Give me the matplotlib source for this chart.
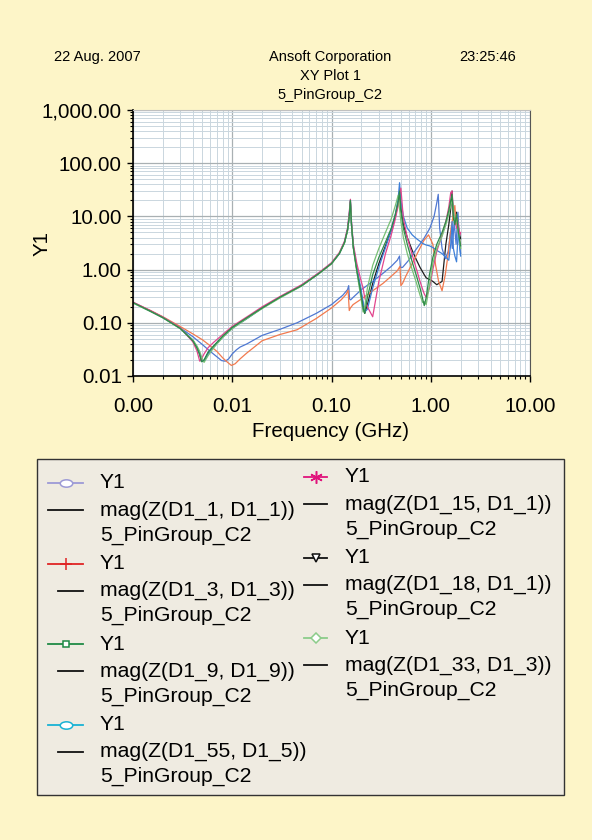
import matplotlib
matplotlib.use("Agg")
import matplotlib.pyplot as plt
import matplotlib.path as mpath
import matplotlib.ticker as mticker
from matplotlib.lines import Line2D
from matplotlib.patches import Rectangle

plt.rcParams['font.family'] = ['Liberation Sans', 'DejaVu Sans']

# frequency grid (GHz) used for the self-impedance curves
f_self = [0.001, 0.0015, 0.002, 0.003, 0.004, 0.0044, 0.0047, 0.0049, 0.0052, 0.0057,
          0.0065, 0.008, 0.01, 0.015, 0.02, 0.03, 0.05, 0.075, 0.1, 0.12,
          0.135, 0.145, 0.151, 0.155, 0.159, 0.166, 0.18, 0.195, 0.208, 0.216,
          0.23, 0.26, 0.3, 0.35, 0.4, 0.44, 0.47, 0.485, 0.5, 0.53,
          0.58, 0.65, 0.72, 0.78, 0.83, 0.86, 0.9, 0.97, 1.05, 1.15,
          1.3, 1.42, 1.52, 1.59, 1.64, 1.69, 1.75, 1.82, 1.9, 1.96, 2.0]

z_9_9 = [0.24, 0.165, 0.125, 0.078, 0.046, 0.034, 0.025, 0.0185, 0.02, 0.028,
         0.037, 0.056, 0.082, 0.135, 0.19, 0.3, 0.5, 0.85, 1.3, 2.0,
         3.2, 5.5, 10, 20, 7, 2.6, 0.95, 0.42, 0.19, 0.15,
         0.3, 0.8, 1.7, 3.3, 6, 11, 19, 30, 13, 6,
         3, 1.4, 0.75, 0.45, 0.28, 0.21, 0.3, 0.8, 1.7, 3,
         5, 8, 13, 20, 26, 10, 7, 11, 5, 3.5, 2.8]
z_55_5 = [0.24, 0.166, 0.127, 0.08, 0.047, 0.035, 0.027, 0.02, 0.0188, 0.026,
          0.035, 0.054, 0.079, 0.13, 0.19, 0.3, 0.5, 0.86, 1.32, 2.0,
          3.3, 5.7, 11, 20, 7.5, 2.8, 1.1, 0.5, 0.25, 0.16,
          0.18, 0.45, 1.1, 2.6, 5.5, 11, 22, 43, 20, 10,
          6, 4.5, 3.8, 3.4, 3.1, 3.0, 2.9, 2.8, 2.6, 2.3,
          2.0, 1.7, 1.5, 3, 8, 2.5, 1.8, 1.4, 6, 2.5, 1.8]
z_15_1 = [0.245, 0.17, 0.128, 0.08, 0.044, 0.03, 0.019, 0.021, 0.026, 0.034,
          0.043, 0.06, 0.086, 0.14, 0.2, 0.31, 0.52, 0.88, 1.35, 2.1,
          3.4, 6, 12, 21, 8, 3, 1.3, 0.7, 0.45, 0.3,
          0.2, 0.13, 0.6, 2.0, 4.5, 9, 16, 26, 34, 9,
          4, 1.9, 1.0, 0.6, 0.42, 0.35, 0.3, 0.45, 1.0, 2.2,
          4.5, 8, 15, 28, 30, 12, 9, 6, 7, 4.5, 5]
z_18_1 = [0.24, 0.165, 0.126, 0.079, 0.047, 0.035, 0.026, 0.019, 0.0195, 0.027,
          0.036, 0.055, 0.08, 0.132, 0.19, 0.3, 0.5, 0.86, 1.3, 2.0,
          3.2, 5.5, 10, 19, 7, 2.6, 1.0, 0.45, 0.22, 0.15,
          0.22, 0.55, 1.3, 2.8, 5.5, 10, 18, 28, 14, 7,
          4, 2.3, 1.5, 1.1, 0.9, 0.8, 0.7, 0.65, 0.6, 0.52,
          0.6, 3, 7, 14, 30, 9, 8, 12, 6, 4.5, 3.8]
z_33_3 = [0.235, 0.163, 0.124, 0.077, 0.048, 0.037, 0.029, 0.023, 0.018, 0.024,
          0.034, 0.053, 0.078, 0.13, 0.185, 0.29, 0.49, 0.84, 1.28, 2.0,
          3.1, 5.3, 9.5, 18, 7, 2.5, 0.9, 0.35, 0.16, 0.2,
          0.45, 1.2, 2.5, 5, 9, 16, 25, 14, 8, 4,
          2, 1, 0.55, 0.33, 0.24, 0.25, 0.22, 0.5, 1.3, 2.5,
          4.2, 7, 11, 16, 20, 14, 8, 9, 5, 3.5, 2.5]

# the two lower curves
f_1_1 = [0.001, 0.0015, 0.002, 0.003, 0.004, 0.005, 0.006, 0.007, 0.0078, 0.0085,
         0.0092, 0.01, 0.011, 0.012, 0.014, 0.02, 0.03, 0.045, 0.07, 0.1,
         0.13, 0.145, 0.149, 0.152, 0.156, 0.165, 0.2, 0.26, 0.33, 0.4,
         0.46, 0.485, 0.495, 0.52, 0.6, 0.7, 0.85, 0.98, 1.08, 1.15,
         1.19, 1.23, 1.3, 1.4, 1.5, 1.58, 1.65, 1.72, 1.8, 1.88, 1.95, 2.0]
z_1_1 = [0.24, 0.165, 0.125, 0.08, 0.055, 0.039, 0.029, 0.023, 0.0195, 0.019,
         0.021, 0.026, 0.031, 0.035, 0.04, 0.058, 0.075, 0.1, 0.15, 0.22,
         0.33, 0.42, 0.5, 0.28, 0.27, 0.3, 0.42, 0.6, 0.85, 1.15,
         1.5, 1.8, 1.1, 1.1, 1.5, 2.3, 3.8, 6, 10, 18,
         26, 6, 2.5, 1.6, 2.2, 5, 2.5, 8, 3, 12, 3, 2]
f_3_3 = [0.001, 0.0015, 0.002, 0.003, 0.004, 0.005, 0.006, 0.007, 0.008, 0.009,
         0.0098, 0.0107, 0.012, 0.014, 0.017, 0.02, 0.03, 0.045, 0.07, 0.1,
         0.125, 0.14, 0.147, 0.151, 0.155, 0.165, 0.2, 0.26, 0.33, 0.4,
         0.46, 0.49, 0.5, 0.52, 0.56, 0.65, 0.75, 0.85, 0.95, 1.05,
         1.12, 1.2, 1.3, 1.4, 1.5, 1.6, 1.68, 1.75, 1.8, 1.86, 1.92, 2.0]
z_3_3 = [0.24, 0.17, 0.13, 0.085, 0.062, 0.048, 0.037, 0.029, 0.022, 0.018,
         0.0158, 0.017, 0.021, 0.027, 0.036, 0.046, 0.06, 0.074, 0.12, 0.19,
         0.27, 0.34, 0.41, 0.17, 0.19, 0.22, 0.28, 0.4, 0.55, 0.75,
         0.95, 1.15, 0.5, 0.55, 0.75, 1.3, 2.2, 3.5, 4.5, 3,
         1.2, 0.6, 0.4, 0.8, 2, 6, 10, 16, 7, 9, 4, 3]

x_ticks = [0.001, 0.01, 0.1, 1, 10]
x_tick_labels = ['0.00', '0.01', '0.10', '1.00', '10.00']
y_ticks = [0.01, 0.1, 1, 10, 100, 1000]
y_tick_labels = ['0.01', '0.10', '1.00', '10.00', '100.00', '1,000.00']

legend_names = ['mag(Z(D1_1, D1_1))', 'mag(Z(D1_3, D1_3))', 'mag(Z(D1_9, D1_9))',
                'mag(Z(D1_55, D1_5))', 'mag(Z(D1_15, D1_1))', 'mag(Z(D1_18, D1_1))',
                'mag(Z(D1_33, D1_3))']

W, H = 592, 840
bg = '#fdf5c8'
fig = plt.figure(figsize=(W / 100, H / 100), dpi=100, facecolor=bg)


def fx(px):
    return px / W


def fy(py):
    return 1 - py / H


ax = fig.add_axes([fx(133), fy(376), fx(530) - fx(133), fy(110) - fy(376)])
ax.set_facecolor('white')

# curves: x data, y data, line colour (drawn back to front)
curves = [
    (f_self, z_18_1, '#1e1e1e'),
    (f_1_1, z_1_1, '#4f78d2'),
    (f_3_3, z_3_3, '#f27a4e'),
    (f_self, z_55_5, '#3d7fd8'),
    (f_self, z_15_1, '#e2458e'),
    (f_self, z_33_3, '#78c074'),
    (f_self, z_9_9, '#2e8b4a'),
]
for xs, ys, c in curves:
    ax.plot(xs, ys, color=c, lw=0.9)

ax.set_xscale('log')
ax.set_yscale('log')
ax.set_xlim(0.001, 10)
ax.set_ylim(0.01, 1000)
ax.set_xticks(x_ticks)
ax.set_xticklabels(x_tick_labels)
ax.set_yticks(y_ticks)
ax.set_yticklabels(y_tick_labels)
ax.xaxis.set_minor_locator(mticker.LogLocator(base=10, subs=range(2, 10), numticks=20))
ax.yaxis.set_minor_locator(mticker.LogLocator(base=10, subs=range(2, 10), numticks=20))
ax.xaxis.set_minor_formatter(mticker.NullFormatter())
ax.yaxis.set_minor_formatter(mticker.NullFormatter())
ax.grid(which='major', color='#a9b0b3', lw=0.9)
ax.grid(which='minor', color='#cad6de', lw=0.7)
ax.set_axisbelow(True)
ax.tick_params(which='major', direction='out', length=4, width=1, labelsize=14.8, colors='black')
ax.tick_params(which='minor', direction='out', length=2.5, width=0.8)
ax.tick_params(axis='x', pad=11)
ax.tick_params(axis='y', pad=4)
for s in ['left', 'bottom']:
    ax.spines[s].set_color('black')
    ax.spines[s].set_linewidth(1.2)
ax.spines['right'].set_color('#555555')
ax.spines['top'].set_color('#c0c0c0')

fig.text(fx(331), fy(432), 'Frequency (GHz)', ha='center', va='center', fontsize=14.8)
fig.text(fx(42), fy(243), 'Y1', ha='center', va='center', fontsize=14.8, rotation=90)

# header
fig.text(fx(97), fy(57), '22 Aug. 2007', ha='center', va='center', fontsize=10.5)
fig.text(fx(330), fy(57), 'Ansoft Corporation', ha='center', va='center', fontsize=10.5)
fig.text(fx(488), fy(57), '23:25:46', ha='center', va='center', fontsize=10.5)
fig.text(fx(330), fy(76), 'XY Plot 1', ha='center', va='center', fontsize=10.5)
fig.text(fx(330), fy(95), '5_PinGroup_C2', ha='center', va='center', fontsize=10.5)

# legend box
fig.add_artist(Rectangle((fx(37), fy(795)), fx(564) - fx(37), fy(459) - fy(795),
                         transform=fig.transFigure, facecolor='#efebe1',
                         edgecolor='#333333', lw=1.0))

ellipse = mpath.Path.unit_circle().transformed(
    matplotlib.transforms.Affine2D().scale(1.7, 1.0))
legend_marks = [
    ('#9c9ad6', ellipse, 'white', 9),
    ('#e02424', '+', '#e02424', 9),
    ('#1f8a45', 's', 'white', 5),
    ('#19b2d4', ellipse, 'white', 9),
    ('#e0147c', (6, 2, 0), '#e0147c', 9),
    ('#111111', 'v', 'white', 6),
    ('#8ccc8a', 'D', 'white', 5),
]
col_x = [(48, 83, 100), (304, 327, 345)]
entry_y0 = [483, 477]
entry_step = 80.5
for i, name in enumerate(legend_names):
    col = 0 if i < 4 else 1
    row = i if i < 4 else i - 4
    x0, x1, tx = col_x[col]
    y = entry_y0[col] + row * entry_step
    mc, mk, mf, ms = legend_marks[i]
    fig.add_artist(Line2D([fx(x0), fx(x1)], [fy(y), fy(y)], transform=fig.transFigure,
                          color=mc, lw=1.3))
    fig.add_artist(Line2D([fx((x0 + x1) / 2)], [fy(y)], transform=fig.transFigure,
                          color=mc, marker=mk, markerfacecolor=mf, markersize=ms,
                          markeredgewidth=1.1, linestyle='none'))
    bx0 = x0 if (i == 0 or col == 1) else 58
    fig.add_artist(Line2D([fx(bx0), fx(x1)], [fy(y + 27), fy(y + 27)],
                          transform=fig.transFigure, color='#111111', lw=1.3))
    fig.text(fx(tx), fy(y), 'Y1', ha='left', va='center', fontsize=15.2)
    fig.text(fx(tx), fy(y + 27), name, ha='left', va='center', fontsize=15.2)
    fig.text(fx(tx), fy(y + 52), '5_PinGroup_C2', ha='left', va='center', fontsize=15.2)

fig.savefig('out.png', dpi=100, facecolor=bg)
